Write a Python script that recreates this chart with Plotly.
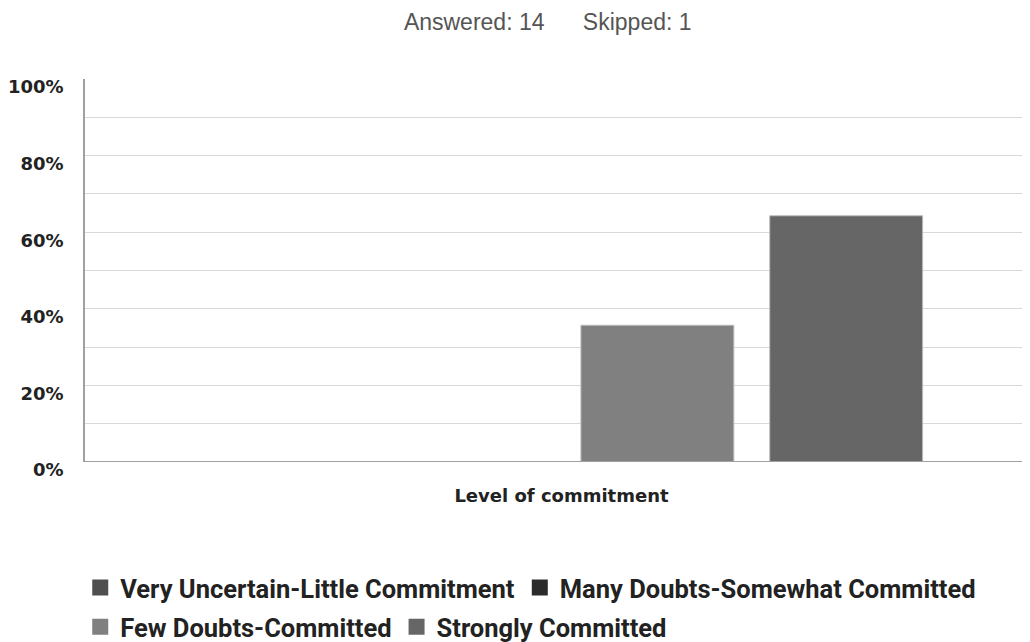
import plotly.graph_objects as go

categories = ["Level of commitment"]
series_names = [
    "Very Uncertain-Little Commitment",
    "Many Doubts-Somewhat Committed",
    "Few Doubts-Committed",
    "Strongly Committed",
]
series_values = [0.0, 0.0, 0.3571, 0.6429]
series_colors = ["#4f4f4f", "#2b2b2b", "#808080", "#666666"]
legend_rows = ["legend", "legend", "legend2", "legend2"]
y_tick_vals = [0, 0.1, 0.2, 0.3, 0.4, 0.5, 0.6, 0.7, 0.8, 0.9, 1.0]
y_tick_text = ["0%", "", "20%", "", "40%", "", "60%", "", "80%", "", "100%"]

fig = go.Figure()
for name, val, col in zip(series_names, series_values, series_colors):
    fig.add_trace(go.Bar(
        x=categories, y=[val], name=name, showlegend=False,
        marker=dict(color=col, line=dict(color="#bdbdbd", width=1)),
        hoverinfo="skip",
    ))
# legend-only entries (larger square swatches)
for name, col, lg in zip(series_names, series_colors, legend_rows):
    fig.add_trace(go.Scatter(
        x=[None], y=[None], mode="markers", name=name, legend=lg,
        marker=dict(symbol="square", size=22, color=col),
        hoverinfo="skip",
    ))

legend_font = dict(family="Roboto", size=25.5, color="#222222", weight="bold")
fig.update_layout(
    width=1030, height=642,
    margin=dict(l=77, r=0, t=71, b=188, autoexpand=False),
    paper_bgcolor="white", plot_bgcolor="white",
    barmode="group", bargap=0.21, bargroupgap=0.19,
    title=dict(text="Answered: 14&nbsp;&nbsp;&nbsp;&nbsp;&nbsp;&nbsp;Skipped: 1",
               x=0.524, xanchor="center", y=0.979, yanchor="middle",
               font=dict(family="Liberation Sans, Arial", size=23, color="#555555")),
    font=dict(family="DejaVu Sans", color="#333333"),
    xaxis=dict(range=[-0.5, 0.4969], showgrid=False, showline=False, ticks="",
               showticklabels=False, zeroline=False, automargin=False,
               title=dict(text="<b>Level of commitment</b>", standoff=27,
                          font=dict(family="DejaVu Sans", size=18, color="#222222"))),
    yaxis=dict(range=[0, 1.0], tickvals=y_tick_vals, ticktext=y_tick_text,
               showgrid=True, gridcolor="#d9d9d9", gridwidth=1,
               showline=True, linecolor="#a0a0a0", linewidth=1.5,
               zeroline=False, ticks="", ticklabelstandoff=16, automargin=False,
               ticklabelshift=8,
               tickfont=dict(family="DejaVu Sans", size=18, color="#222222", weight="bold")),
    legend=dict(orientation="h", x=-0.005, xanchor="left", y=-0.329, yanchor="middle",
                font=legend_font, itemsizing="trace", traceorder="normal"),
    legend2=dict(orientation="h", x=-0.005, xanchor="left", y=-0.431, yanchor="middle",
                 font=legend_font, itemsizing="trace", traceorder="normal"),
)
fig.add_shape(type="line", xref="paper", yref="y", x0=0, x1=1, y0=0, y1=0,
              line=dict(color="#a0a0a0", width=2))

fig.write_html("out.html")
